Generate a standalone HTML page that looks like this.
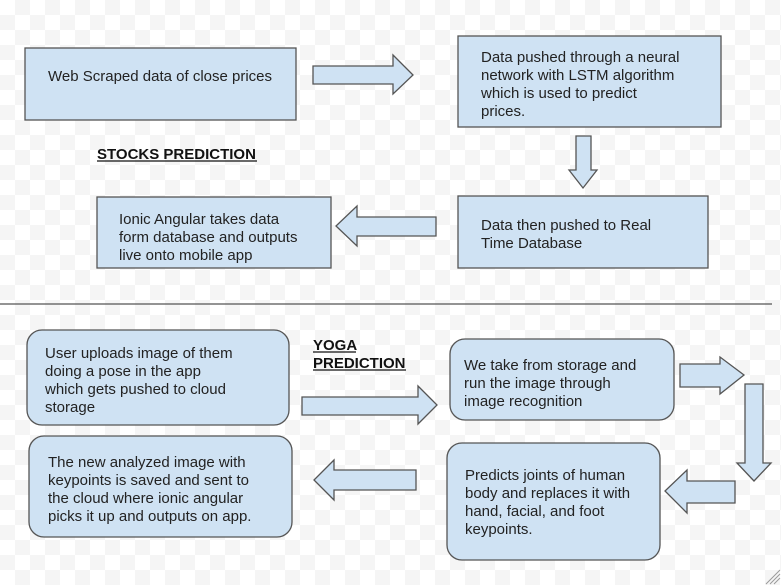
<!DOCTYPE html>
<html><head><meta charset="utf-8"><style>
html,body{margin:0;padding:0;}
body{width:781px;height:585px;overflow:hidden;background-color:#fff;
background-image:conic-gradient(#f5f5f5 25%,#fff 25% 50%,#f5f5f5 50% 75%,#fff 75%);background-size:30px 30px;}
svg{position:absolute;left:0;top:0;}
text{font-family:"Liberation Sans",Arial,sans-serif;font-size:15px;fill:#222;}
.b{fill:#cfe2f3;stroke:#555;stroke-width:1.3;}
.t{font-weight:bold;fill:#111;}
</style></head><body>
<svg width="781" height="585" viewBox="0 0 781 585">
<rect class="b" x="25" y="48" width="271" height="72"/>
<text x="48" y="81">Web Scraped data of close prices</text>
<polygon class="b" points="313,66 393,66 393,55 413,75 393,94 393,84 313,84"/>
<rect class="b" x="458" y="36" width="263" height="91"/>
<text x="481" y="62">Data pushed through a neural</text>
<text x="481" y="80">network with LSTM algorithm</text>
<text x="481" y="98">which is used to predict</text>
<text x="481" y="116">prices.</text>
<polygon class="b" points="576,136 591,136 591,170 597,170 583,188 569,170 576,170"/>
<text class="t" x="97" y="159">STOCKS PREDICTION</text>
<line x1="97" y1="161" x2="257" y2="161" stroke="#111" stroke-width="1.2"/>
<rect class="b" x="458" y="196" width="250" height="72"/>
<text x="481" y="230">Data then pushed to Real</text>
<text x="481" y="248">Time Database</text>
<polygon class="b" points="436,217 357,217 357,206 336,226 357,246 357,236 436,236"/>
<rect class="b" x="97" y="197" width="234" height="71"/>
<text x="119" y="224">Ionic Angular takes data</text>
<text x="119" y="242">form database and outputs</text>
<text x="119" y="260">live onto mobile app</text>
<line x1="0" y1="304" x2="772" y2="304" stroke="#555" stroke-width="1.2"/>
<rect class="b" x="27" y="330" width="262" height="95" rx="15"/>
<text x="45" y="358">User uploads image of them</text>
<text x="45" y="376">doing a pose in the app</text>
<text x="45" y="394">which gets pushed to cloud</text>
<text x="45" y="412">storage</text>
<text class="t" x="313" y="350">YOGA</text>
<text class="t" x="313" y="368">PREDICTION</text>
<line x1="313" y1="352" x2="356" y2="352" stroke="#111" stroke-width="1.2"/>
<line x1="313" y1="370" x2="406" y2="370" stroke="#111" stroke-width="1.2"/>
<polygon class="b" points="302,397 418,397 418,386 437,405 418,424 418,415 302,415"/>
<rect class="b" x="450" y="339" width="224" height="81" rx="15"/>
<text x="464" y="370">We take from storage and</text>
<text x="464" y="388">run the image through</text>
<text x="464" y="406">image recognition</text>
<polygon class="b" points="680,364 720,364 720,357 744,375 720,394 720,387 680,387"/>
<polygon class="b" points="745,384 763,384 763,463 771,463 754,481 737,463 745,463"/>
<rect class="b" x="29" y="436" width="263" height="101" rx="15"/>
<text x="48" y="467">The new analyzed image with</text>
<text x="48" y="485">keypoints is saved and sent to</text>
<text x="48" y="503">the cloud where ionic angular</text>
<text x="48" y="521">picks it up and outputs on app.</text>
<polygon class="b" points="416,470 334,470 334,460 314,480 334,500 334,490 416,490"/>
<rect class="b" x="447" y="443" width="213" height="117" rx="15"/>
<text x="465" y="480">Predicts joints of human</text>
<text x="465" y="498">body and replaces it with</text>
<text x="465" y="516">hand, facial, and foot</text>
<text x="465" y="534">keypoints.</text>
<polygon class="b" points="735,481 687,481 687,470 665,491 687,513 687,503 735,503"/>
<g stroke="#999" stroke-width="1">
<line x1="766" y1="584" x2="780" y2="570"/><line x1="770" y1="584" x2="780" y2="574"/><line x1="774" y1="584" x2="780" y2="578"/>
</g>
</svg>
</body></html>
